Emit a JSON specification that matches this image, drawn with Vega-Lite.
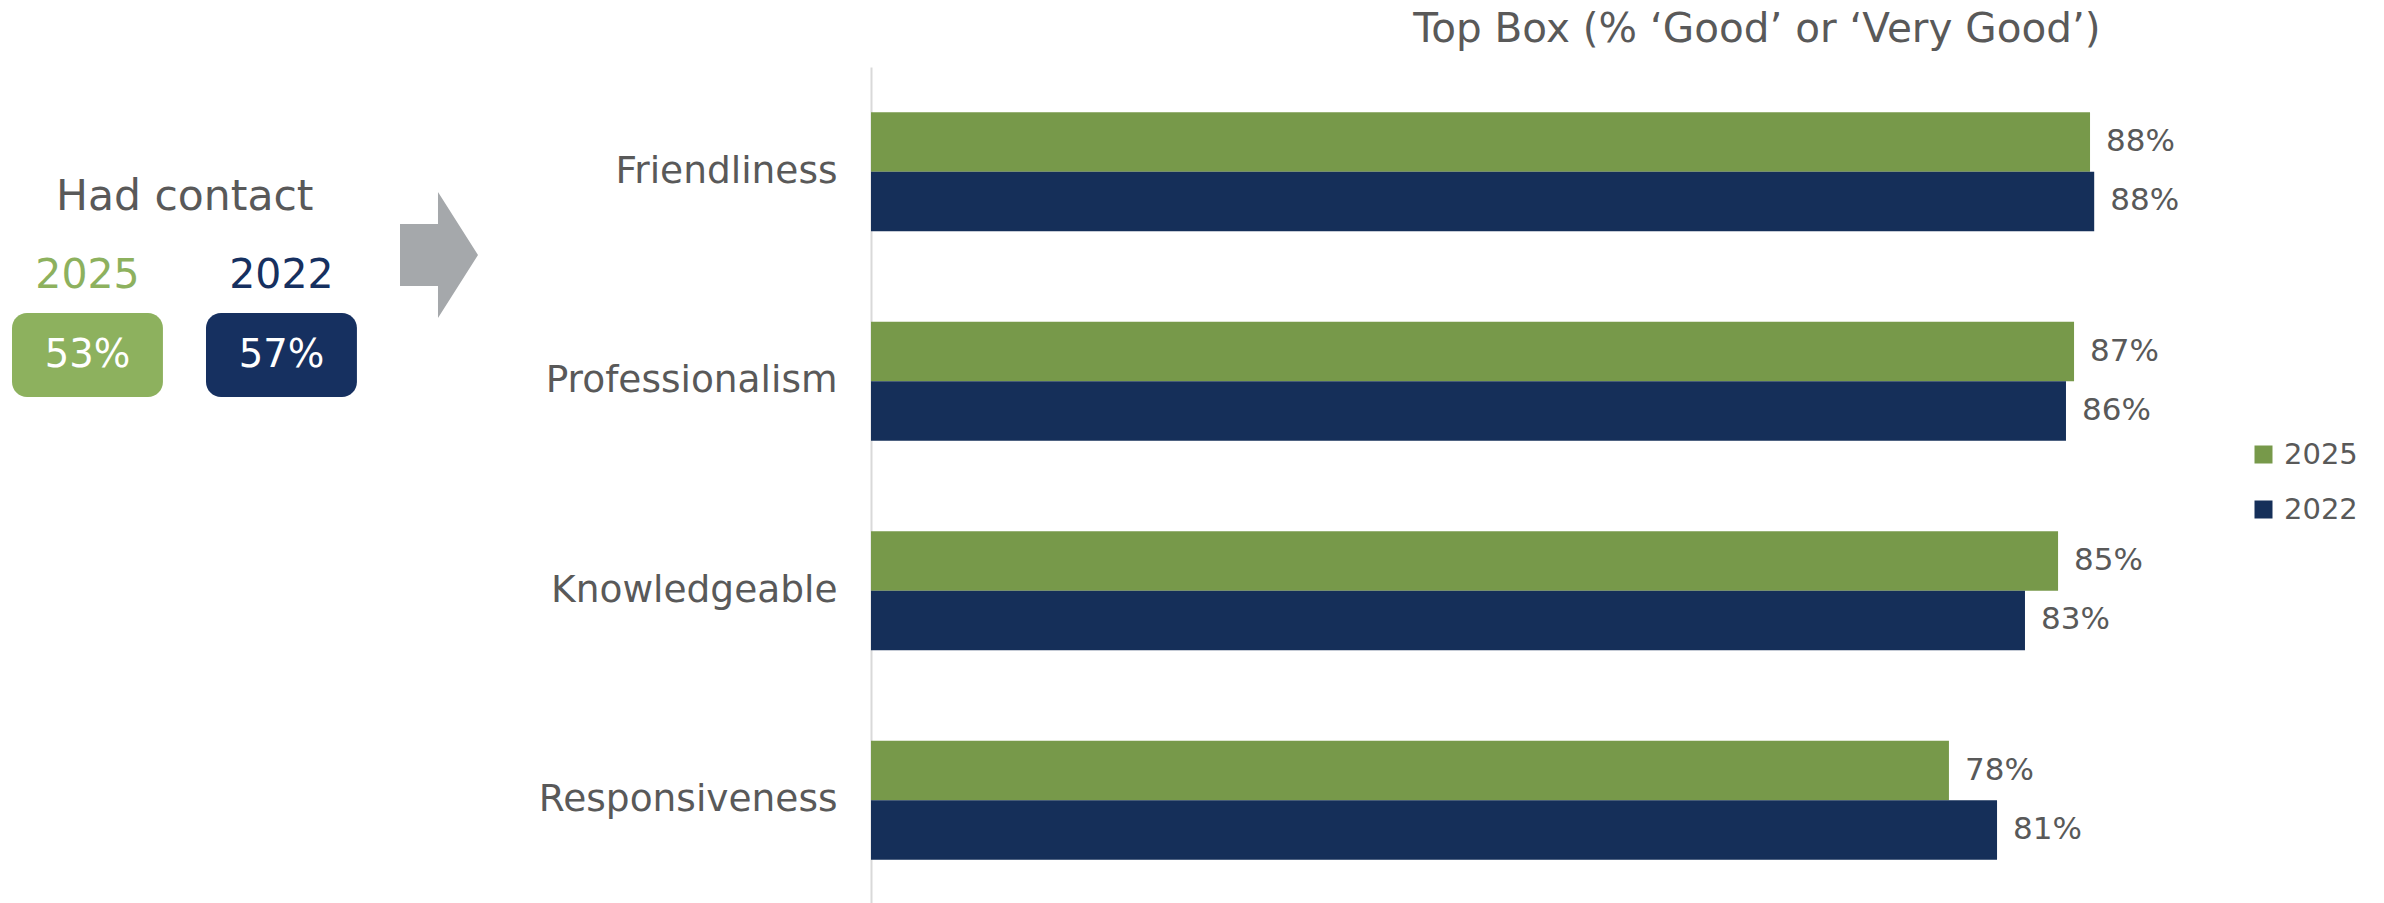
{
  "$schema": "https://vega.github.io/schema/vega-lite/v6.json",
  "autosize": {"type": "pad"},
  "padding": {"left": 0, "top": 9, "right": 0, "bottom": 0},
  "background": "white",
  "config": {"view": {"stroke": null}, "font": "DejaVu Sans", "text": {"font": "DejaVu Sans"}},
  "spacing": 393,
  "bounds": "flush",
  "resolve": {"scale": {"color": "independent"}, "legend": {"color": "independent"}},
  "hconcat": [
    {
      "width": 478,
      "height": 316,
      "data": {"values": [{"year": "2025", "share": 0.53}, {"year": "2022", "share": 0.57}]},
      "resolve": {"scale": {"x": "independent", "y": "independent"}},
      "layer": [
        {
          "data": {"values": [{"label": "Had contact"}]},
          "mark": {"type": "text", "fontSize": 42.5, "color": "#595959", "baseline": "middle", "align": "center"},
          "encoding": {
            "text": {"field": "label", "type": "nominal"},
            "x": {"field": "label", "type": "nominal", "scale": {"type": "point", "align": 0.3865}, "axis": null},
            "y": {"datum": "heading", "type": "nominal", "scale": {"type": "point", "domain": ["heading", "year", "share"], "padding": 1, "align": 0.823}, "axis": null}
          }
        },
        {
          "mark": {"type": "text", "fontSize": 41, "baseline": "middle", "align": "center"},
          "encoding": {
            "x": {"field": "year", "type": "nominal", "sort": ["2025", "2022"], "scale": {"type": "band", "domain": ["2025", "2022"], "paddingInner": 0.222, "paddingOuter": 0.343, "align": 0.0902}, "axis": null},
            "y": {"datum": "year", "type": "nominal", "scale": {"type": "point", "domain": ["heading", "year", "share"], "padding": 1, "align": 0.823}, "axis": null},
            "text": {"field": "year", "type": "nominal"},
            "color": {"field": "year", "type": "nominal", "scale": {"domain": ["2025", "2022"], "range": ["#8db15e", "#163060"]}, "legend": null}
          }
        },
        {
          "mark": {"type": "rect", "height": 84, "cornerRadius": 15},
          "encoding": {
            "x": {"field": "year", "type": "nominal", "sort": ["2025", "2022"], "scale": {"type": "band", "domain": ["2025", "2022"], "paddingInner": 0.222, "paddingOuter": 0.343, "align": 0.0902}, "axis": null},
            "y": {"datum": "share", "type": "nominal", "scale": {"type": "point", "domain": ["heading", "year", "share"], "padding": 1, "align": 0.823}, "axis": null},
            "color": {"field": "year", "type": "nominal", "scale": {"domain": ["2025", "2022"], "range": ["#8db15e", "#163060"]}, "legend": null}
          }
        },
        {
          "mark": {"type": "text", "fontSize": 38.5, "baseline": "middle", "align": "center", "color": "white"},
          "encoding": {
            "x": {"field": "year", "type": "nominal", "sort": ["2025", "2022"], "scale": {"type": "band", "domain": ["2025", "2022"], "paddingInner": 0.222, "paddingOuter": 0.343, "align": 0.0902}, "axis": null},
            "y": {"datum": "share", "type": "nominal", "scale": {"type": "point", "domain": ["heading", "year", "share"], "padding": 1, "align": 0.823}, "axis": null},
            "text": {"field": "share", "type": "quantitative", "format": ".0%"}
          }
        },
        {
          "data": {"values": [{"step": "ratings"}]},
          "mark": {"type": "point", "shape": "M -0.619 -0.492 L -0.016 -0.492 L -0.016 -1 L 0.619 0 L -0.016 1 L -0.016 0.492 L -0.619 0.492 Z", "size": 15876, "filled": true, "color": "#a5a8ab", "opacity": 1, "strokeWidth": 0},
          "encoding": {
            "x": {"field": "step", "type": "nominal", "scale": {"type": "point", "align": 0.9184}, "axis": null},
            "y": {"field": "step", "type": "nominal", "scale": {"type": "point", "align": 0.5949}, "axis": null}
          }
        }
      ]
    },
    {
      "width": 1390,
      "height": 838,
      "title": {"text": "Top Box (% ‘Good’ or ‘Very Good’)", "fontSize": 40.5, "font": "DejaVu Sans", "fontWeight": "normal", "color": "#595959", "anchor": "middle", "dx": 191, "offset": 17},
      "data": {"values": [
        {"category": "Friendliness", "year": "2025", "value": 0.877},
        {"category": "Friendliness", "year": "2022", "value": 0.880},
        {"category": "Professionalism", "year": "2025", "value": 0.8655},
        {"category": "Professionalism", "year": "2022", "value": 0.8597},
        {"category": "Knowledgeable", "year": "2025", "value": 0.854},
        {"category": "Knowledgeable", "year": "2022", "value": 0.8302},
        {"category": "Responsiveness", "year": "2025", "value": 0.7755},
        {"category": "Responsiveness", "year": "2022", "value": 0.8101}
      ]},
      "encoding": {
        "y": {"field": "category", "type": "nominal", "sort": ["Friendliness", "Professionalism", "Knowledgeable", "Responsiveness"], "scale": {"paddingInner": 0.433, "paddingOuter": 0.2165}, "axis": {"title": null, "ticks": false, "labelPadding": 34, "labelFontSize": 37.5, "labelColor": "#595959", "labelFont": "DejaVu Sans", "labelLimit": 0, "domainColor": "#d9d9d9", "domainWidth": 2, "grid": false}},
        "yOffset": {"field": "year", "type": "nominal", "sort": ["2025", "2022"], "scale": {"paddingInner": 0, "paddingOuter": 0}},
        "x": {"field": "value", "type": "quantitative", "scale": {"domain": [0, 1]}, "axis": null}
      },
      "layer": [
        {
          "mark": {"type": "bar"},
          "encoding": {
            "color": {"field": "year", "type": "nominal", "scale": {"domain": ["2025", "2022"], "range": ["#77994a", "#152f59"]},
              "legend": {"title": null, "orient": "none", "legendX": 1378, "legendY": 373, "symbolType": "square", "symbolSize": 324, "symbolStrokeWidth": 0, "labelFontSize": 29, "labelColor": "#595959", "labelFont": "DejaVu Sans", "labelOffset": 6, "rowPadding": 25, "padding": 0, "symbolOffset": 0}}
          }
        },
        {
          "mark": {"type": "text", "align": "left", "baseline": "middle", "dx": 16, "fontSize": 31, "color": "#595959"},
          "encoding": {"text": {"field": "value", "type": "quantitative", "format": ".0%"}}
        }
      ]
    }
  ]
}
